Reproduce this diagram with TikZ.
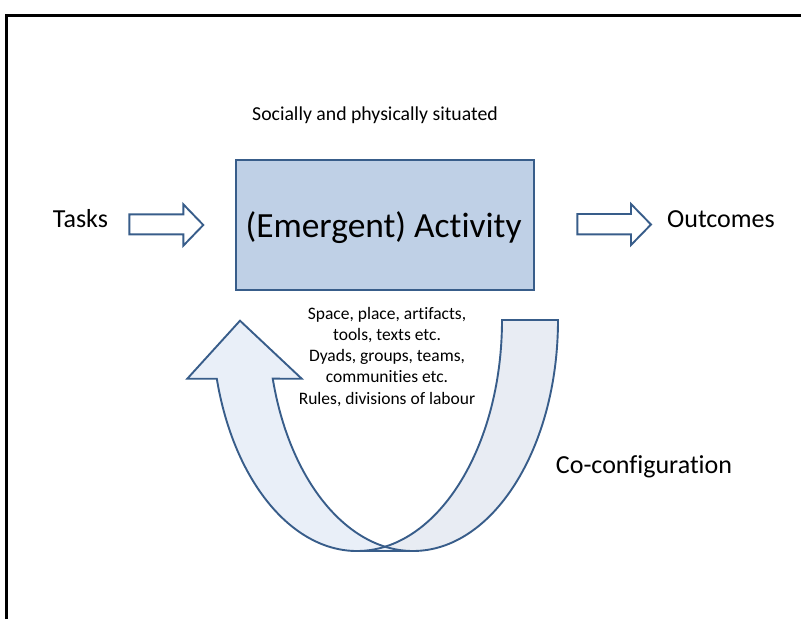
\documentclass[tikz,border=0pt]{standalone}
\usepackage{fontspec}
\setmainfont{Carlito}[Ligatures=NoCommon]
\definecolor{blu}{RGB}{56,93,138}
\definecolor{boxfill}{RGB}{191,208,230}
\definecolor{bandL}{RGB}{233,239,248}
\definecolor{bandR}{RGB}{232,236,243}
\tikzset{
  outl/.style={draw=blu, line width=1.9pt},
  bigtxt/.style={font=\fontsize{26}{31}\selectfont, inner sep=0pt},
  smalltxt/.style={font=\fontsize{17.5}{21}\selectfont, inner sep=0pt, anchor=base},
  ell/.style={x radius=145pt, y radius=231pt}
}
\begin{document}
\begin{tikzpicture}[x=1pt,y=-1pt]
\useasboundingbox (0,0) rectangle (801,619);
% frame
\draw[black, line width=2.4pt] (6.5,619) -- (6.5,15.5) -- (801,15.5);

% title
\node[font=\fontsize{19.75}{24}\selectfont, inner sep=0pt, anchor=base] (sit) at (375,120.7) {Socially and physically situated};

% activity box
\node[outl, fill=boxfill, minimum width=297.7pt, minimum height=130.3pt, anchor=north west, inner sep=0pt] (act) at (235,159) {};
\node[font=\fontsize{35.4}{42}\selectfont, inner sep=0pt, anchor=base] (acttxt) at (383.6,237.5) {(Emergent) Activity};

% side labels
\node[bigtxt] (tasks) at (80.5,219) {Tasks};
\node[bigtxt] (outc) at (721,219) {Outcomes};
\node[bigtxt, anchor=base] (cocfg) at (644,473.3) {Co-configuration};

% block arrows
\draw[outl, fill=white] (129.3,214.3) -- (183.3,214.3) -- (183.3,204.3) -- (203.3,225) -- (183.3,245.7) -- (183.3,234.3) -- (129.3,234.3) -- cycle;
\draw[outl, fill=white] (577.3,214) -- (631,214) -- (631,204) -- (651,224.5) -- (631,245) -- (631,234.3) -- (577.3,234.3) -- cycle;

% curved up arrow: fills
\fill[bandR] (502,320) -- (558,320) arc[start angle=0, end angle=-90, ell] -- (357,551) arc[start angle=-90, end angle=0, ell] -- cycle;
\fill[bandL] (216.8,378.7) arc[start angle=194.72, end angle=270, ell] -- (413,551) arc[start angle=270, end angle=194.72, ell] -- (301.7,378.7) -- (240,320.7) -- (187.3,378.7) -- cycle;
% outlines
\draw[outl] (502,320) -- (558,320) arc[start angle=0, end angle=-90, ell] -- (357,551) arc[start angle=-90, end angle=0, ell] -- cycle;
\draw[outl] (216.8,378.7) arc[start angle=194.72, end angle=270, ell] -- (413,551) arc[start angle=270, end angle=194.72, ell] -- (301.7,378.7) -- (240,320.7) -- (187.3,378.7) -- cycle;

% inner list
\node[smalltxt] (l1) at (387,319) {Space, place, artifacts,};
\node[smalltxt] (l2) at (387,340.3) {tools, texts etc.};
\node[smalltxt] (l3) at (387,361.6) {Dyads, groups, teams,};
\node[smalltxt] (l4) at (387,382.9) {communities etc.};
\node[smalltxt] (l5) at (387,404.2) {Rules, divisions of labour};
\end{tikzpicture}
\end{document}
